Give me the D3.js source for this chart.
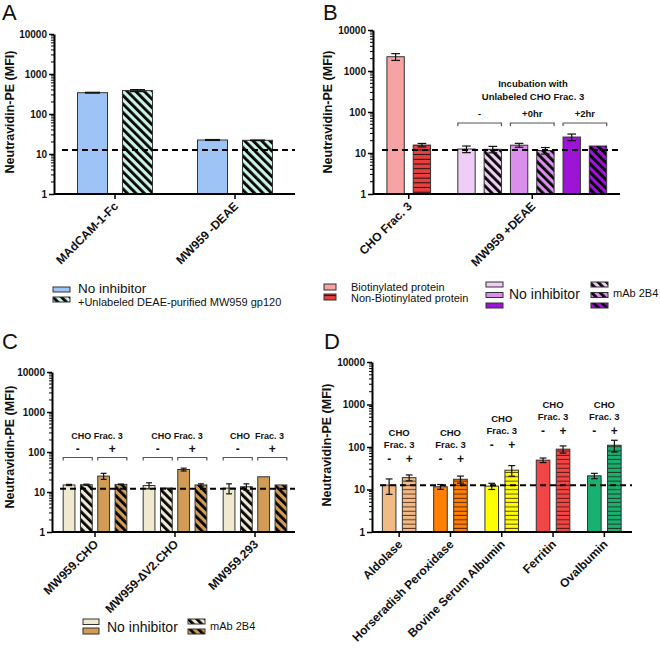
<!DOCTYPE html>
<html><head><meta charset="utf-8">
<script src="https://cdn.jsdelivr.net/npm/d3@7"></script>
<style>body{margin:0;background:#fff} text{font-family:"Liberation Sans",Arial,sans-serif;fill:#111}</style>
</head><body><svg id="c" width="660" height="651"></svg>
<script>
// ================= DATA =================
const yTickValues = [1, 10, 100, 1000, 10000];
const yTickLabels = ["1", "10", "100", "1000", "10000"];
const yTitle = "Neutravidin-PE (MFI)";

// Panel A
const catsA = ["MAdCAM-1-Fc", "MW959 -DEAE"];
const seriesA = ["No inhibitor", "+Unlabeled DEAE-purified MW959 gp120"];
const aNoInh = [341, 22.4];
const aNoInhErr = [8, 0.6];
const aUnlab = [385, 22];
const aUnlabErr = [22, 0.4];
const cutoffA = 12.6;

// Panel B
const catsB = ["CHO Frac. 3", "MW959 +DEAE"];
const seriesB1 = ["Biotinylated protein", "Non-Biotinylated protein"];
const bProt = [2230, 15.6];
const bProtErr = [420, 1.5];
const seriesB2 = ["No inhibitor -", "mAb 2B4 -", "No inhibitor +0hr", "mAb 2B4 +0hr", "No inhibitor +2hr", "mAb 2B4 +2hr"];
const bMW = [12.5, 12.3, 15.5, 11.5, 24.5, 14.8];
const bMWErr = [2.3, 2.2, 1.7, 2.1, 4.5, 0];
const bracketLabelsB = ["-", "+0hr", "+2hr"];
const incubationTitle = ["Incubation with", "Unlabeled CHO Frac. 3"];
const cutoffB = 11.8;

// Panel C
const catsC = ["MW959.CHO", "MW959-\u2206V2.CHO", "MW959.293"];
const seriesC = ["No inhibitor -", "mAb 2B4 -", "No inhibitor +", "mAb 2B4 +"];
const cNoInhMinus = [15, 14.5, 12.5];
const cNoInhMinusErr = [0.5, 2.5, 3.5];
const cMabMinus = [15.2, 12.6, 13.5];
const cMabMinusErr = [0.5, 0, 2.5];
const cNoInhPlus = [25, 36.5, 24];
const cNoInhPlusErr = [4.3, 3, 0];
const cMabPlus = [15.5, 15, 15];
const cMabPlusErr = [0.3, 1, 0];
const groupTitleC = ["CHO Frac. 3", "CHO Frac. 3", "CHO  Frac. 3"];
const signLabels = ["-", "+"];
const cutoffC = 12;

// Panel D
const catsD = ["Aldolase", "Horseradish Peroxidase", "Bovine Serum Albumin", "Ferritin", "Ovalbumin"];
const dMinus = [12.7, 11.6, 12, 49, 21];
const dMinusErr = [5, 1.5, 2, 6, 3];
const dPlus = [19, 17.4, 28.5, 89, 110];
const dPlusErr = [3, 3.3, 8, 17, 34];
const cutoffD = 12.6;

// ================= STYLE =================
const colA = ["#9ec4f6", "#c9f3e4"];
const colB1 = ["#f7a3a3", "#e83f3f"];
const colPurple = ["#efcdf6", "#da8fec", "#9c14d6"];
const colC = ["#efe9cf", "#d29c57"];
const colD = ["#f2bb86", "#ff8000", "#ffff00", "#f24545", "#19b172"];
const FONT = '"Liberation Sans",Arial,sans-serif';

const svg = d3.select("#c");
const defs = svg.append("defs");
let pid = 0;
function diag(bg) {
  const id = "pd" + (pid++);
  const p = defs.append("pattern").attr("id", id).attr("patternUnits", "userSpaceOnUse")
    .attr("width", 6).attr("height", 6).attr("patternTransform", "rotate(-45)");
  p.append("rect").attr("width", 6).attr("height", 6).attr("fill", bg);
  p.append("rect").attr("width", 2.8).attr("height", 6).attr("fill", "#000");
  return `url(#${id})`;
}
function horiz(bg, sp, lc) {
  const id = "ph" + (pid++);
  const p = defs.append("pattern").attr("id", id).attr("patternUnits", "userSpaceOnUse")
    .attr("width", 10).attr("height", sp);
  p.append("rect").attr("width", 10).attr("height", sp).attr("fill", bg);
  p.append("rect").attr("y", sp - 1).attr("width", 10).attr("height", 1).attr("fill", lc);
  return `url(#${id})`;
}
function inner(keys, step, pad) {
  const half = (keys.length - pad) * step / 2;
  return d3.scaleBand().domain(keys).range([-half, half]).paddingInner(pad);
}
function yScale(top, bot) { return d3.scaleLog().domain([1, 10000]).range([bot, top]); }

function yAxis(y, x) {
  const g = svg.append("g").attr("transform", `translate(${x},0)`);
  g.call(d3.axisLeft(y).tickValues(yTickValues).tickFormat((d, i) => yTickLabels[i]).tickSize(5).tickSizeOuter(0));
  g.select(".domain").attr("stroke", "#000").attr("stroke-width", 2);
  g.selectAll(".tick line").attr("stroke", "#000").attr("stroke-width", 1.5);
  g.selectAll(".tick text").attr("font-family", FONT).attr("font-weight", "bold").attr("font-size", 10).attr("x", -7).attr("fill", "#111");
  const minors = [];
  yTickValues.slice(0, -1).forEach(d => { for (let m = 2; m <= 9; m++) minors.push(d * m); });
  g.selectAll(".minor").data(minors).join("line").attr("class", "minor")
    .attr("x1", -3).attr("x2", 0).attr("y1", d => y(d)).attr("y2", d => y(d)).attr("stroke", "#000").attr("stroke-width", 1);
}
function xAxis(outer, yb, x0, x1, cats) {
  svg.append("line").attr("x1", x0).attr("x2", x1).attr("y1", yb).attr("y2", yb).attr("stroke", "#000").attr("stroke-width", 2);
  const g = svg.append("g");
  cats.forEach(c => {
    const cx = outer(c) + outer.bandwidth() / 2;
    g.append("line").attr("x1", cx).attr("x2", cx).attr("y1", yb).attr("y2", yb + 5).attr("stroke", "#000").attr("stroke-width", 1.5);
    g.append("text").attr("transform", `translate(${cx + 4},${yb + 13}) rotate(-45)`)
      .attr("text-anchor", "end").attr("font-weight", "bold").attr("font-size", 12).text(c);
  });
}
function bar(y, yb, x, w, v, e, fill) {
  svg.append("rect").attr("x", x).attr("y", y(v)).attr("width", w).attr("height", yb - y(v))
    .attr("fill", fill).attr("stroke", "#333").attr("stroke-width", 1);
  if (e > 0) {
    const cx = x + w / 2, cw = Math.min(w * 0.5, 16) / 2;
    const g = svg.append("g").attr("stroke", "#111").attr("stroke-width", 1.2);
    g.append("line").attr("x1", cx).attr("x2", cx).attr("y1", y(v + e)).attr("y2", y(Math.max(v - e, 1.01)));
    g.append("line").attr("x1", cx - cw).attr("x2", cx + cw).attr("y1", y(v + e)).attr("y2", y(v + e));
    g.append("line").attr("x1", cx - cw).attr("x2", cx + cw).attr("y1", y(v - e)).attr("y2", y(v - e));
  }
}
function cutoff(y, v, x0, x1) {
  svg.append("line").attr("x1", x0).attr("x2", x1).attr("y1", y(v)).attr("y2", y(v))
    .attr("stroke", "#000").attr("stroke-width", 2).attr("stroke-dasharray", "6,4");
}
function yTitleText(x, yc) {
  svg.append("text").attr("transform", `translate(${x},${yc}) rotate(-90)`).attr("text-anchor", "middle")
    .attr("font-weight", "bold").attr("font-size", 12.5).text(yTitle);
}
function letter(t, x, yb) { svg.append("text").attr("x", x).attr("y", yb).attr("font-size", 22).text(t); }
function txt(t, x, yb, size, bold, anchor) {
  return svg.append("text").attr("x", x).attr("y", yb).attr("font-size", size).attr("font-weight", bold ? "bold" : "normal")
    .attr("text-anchor", anchor || "start").text(t);
}
function swatch(x, yy, w, h, fill) {
  svg.append("rect").attr("x", x).attr("y", yy).attr("width", w).attr("height", h).attr("fill", fill).attr("stroke", "#333").attr("stroke-width", 1);
}
function bracket(xa, xb, yy) {
  svg.append("path").attr("d", `M${xa},${yy + 3}V${yy}H${xb}V${yy + 3}`).attr("fill", "none").attr("stroke", "#555").attr("stroke-width", 1.2);
}

// ================= PANEL A =================
{
  const yb = 194, y = yScale(34, yb);
  const outer = d3.scaleBand().domain(catsA).range([55, 295]);
  const inn = inner(seriesA, 45, 1 / 3);
  const fills = [colA[0], diag(colA[1])];
  const vals = [aNoInh, aUnlab], errs = [aNoInhErr, aUnlabErr];
  catsA.forEach((c, i) => {
    const cx = outer(c) + outer.bandwidth() / 2;
    seriesA.forEach((s, j) => bar(y, yb, cx + inn(s), inn.bandwidth(), vals[j][i], errs[j][i], fills[j]));
  });
  cutoff(y, cutoffA, 62, 295);
  yAxis(y, 54);
  xAxis(outer, yb, 54, 295, catsA);
  yTitleText(14, 112);
  letter("A", 2, 20);
  swatch(53, 287, 17, 5, fills[0]);
  txt(seriesA[0], 78, 292.5, 13.5);
  swatch(53, 297, 17, 5, fills[1]);
  txt(seriesA[1], 78, 306, 11);
}

// ================= PANEL B =================
{
  const yb = 194, y = yScale(30, yb);
  const outer = d3.scaleBand().domain(catsB).range([347, 594]);
  const in1 = inner(seriesB1, 26.3, 0.34), in2 = inner(seriesB2, 26.3, 0.34);
  const c1 = outer(catsB[0]) + outer.bandwidth() / 2, c2 = outer(catsB[1]) + outer.bandwidth() / 2;
  const f1 = [colB1[0], horiz(colB1[1], 4.7, "#111")];
  seriesB1.forEach((s, j) => bar(y, yb, c1 + in1(s), in1.bandwidth(), bProt[j], bProtErr[j], f1[j]));
  const f2 = [];
  colPurple.forEach(col => { f2.push(col); f2.push(diag(col)); });
  seriesB2.forEach((s, j) => bar(y, yb, c2 + in2(s), in2.bandwidth(), bMW[j], bMWErr[j], f2[j]));
  cutoff(y, cutoffB, 382, 620);
  yAxis(y, 373);
  xAxis(outer, yb, 373, 620, catsB);
  yTitleText(332, 112);
  letter("B", 323, 20);
  // brackets
  bracketLabelsB.forEach((l, k) => {
    const xa = c2 + in2(seriesB2[2 * k]), xb = c2 + in2(seriesB2[2 * k + 1]) + in2.bandwidth();
    bracket(xa, xb, 123);
    txt(l, (xa + xb) / 2, 117, 9.5, true, "middle");
  });
  txt(incubationTitle[0], 533, 87, 9.5, true, "middle");
  txt(incubationTitle[1], 533, 100, 9.5, true, "middle");
  // legend
  swatch(324, 284, 12, 6, f1[0]);
  txt(seriesB1[0], 351, 291, 11);
  swatch(324, 294, 12, 6, f1[1]);
  txt(seriesB1[1], 351, 302, 11);
  [282, 292.5, 303].forEach((yy, k) => swatch(486, yy, 17, 5, f2[2 * k]));
  txt("No inhibitor", 509, 299, 14);
  [282, 292.5, 303].forEach((yy, k) => swatch(591, yy, 17, 5, f2[2 * k + 1]));
  txt("mAb 2B4", 613, 296.5, 11);
}

// ================= PANEL C =================
{
  const yb = 532, y = yScale(372, yb);
  const outer = d3.scaleBand().domain(catsC).range([55, 295]);
  const inn = inner(seriesC, 17.3, 0.32);
  const fills = [colC[0], diag(colC[0]), colC[1], diag(colC[1])];
  const vals = [cNoInhMinus, cMabMinus, cNoInhPlus, cMabPlus];
  const errs = [cNoInhMinusErr, cMabMinusErr, cNoInhPlusErr, cMabPlusErr];
  catsC.forEach((c, i) => {
    const cx = outer(c) + outer.bandwidth() / 2;
    seriesC.forEach((s, j) => bar(y, yb, cx + inn(s), inn.bandwidth(), vals[j][i], errs[j][i], fills[j]));
    txt(groupTitleC[i], cx + 2, 439, 9, true, "middle").attr("xml:space", "preserve").style("white-space", "pre");
    [0, 1].forEach(k => {
      const xa = cx + inn(seriesC[2 * k]), xb = cx + inn(seriesC[2 * k + 1]) + inn.bandwidth();
      bracket(xa, xb, 457.5);
      txt(signLabels[k], (xa + xb) / 2, 452.5, 12, true, "middle");
    });
  });
  cutoff(y, cutoffC, 60, 295);
  yAxis(y, 52);
  xAxis(outer, yb, 52, 295, catsC);
  yTitleText(14, 447);
  letter("C", 2, 349);
  swatch(83, 619, 16, 5.5, fills[0]);
  swatch(83, 628, 16, 6, fills[2]);
  txt("No inhibitor", 107, 632, 14);
  swatch(188, 619, 17, 5, fills[1]);
  swatch(188, 629, 17, 5, fills[3]);
  txt("mAb 2B4", 210, 630, 11);
}

// ================= PANEL D =================
{
  const yb = 532, y = yScale(362, yb);
  const outer = d3.scaleBand().domain(catsD).range([373.5, 630]);
  const keys = ["minus", "plus"];
  const inn = inner(keys, 20, 0.32);
  const labelTop = [432, 432, 418, 404, 404];
  catsD.forEach((c, i) => {
    const cx = outer(c) + outer.bandwidth() / 2;
    bar(y, yb, cx + inn("minus"), inn.bandwidth(), dMinus[i], dMinusErr[i], colD[i]);
    bar(y, yb, cx + inn("plus"), inn.bandwidth(), dPlus[i], dPlusErr[i], horiz(colD[i], 4.3, "rgba(40,10,0,0.75)"));
    txt("CHO", cx, labelTop[i] + 3.5, 9.5, true, "middle");
    txt("Frac. 3", cx, labelTop[i] + 15.5, 9.5, true, "middle");
    keys.forEach((k, j) => txt(signLabels[j], cx + inn(k) + inn.bandwidth() / 2, labelTop[i] + 30.5, 12, true, "middle"));
  });
  cutoff(y, cutoffD, 380, 632);
  yAxis(y, 372);
  xAxis(outer, yb, 372, 632, catsD);
  yTitleText(331, 445);
  letter("D", 324, 349);
}
</script></body></html>
